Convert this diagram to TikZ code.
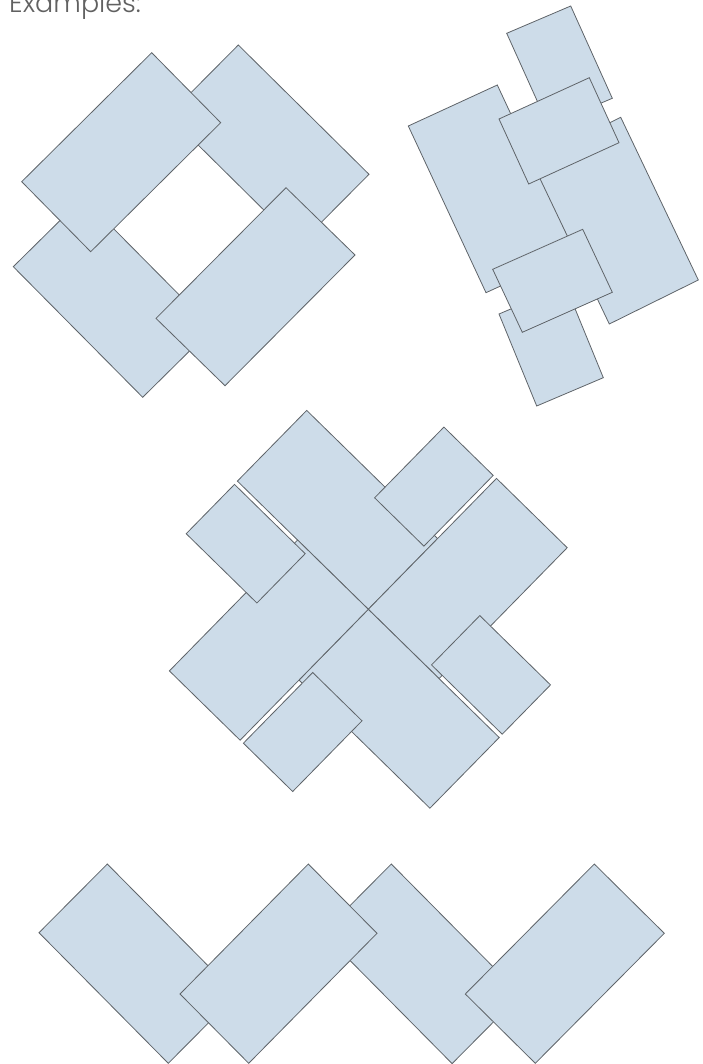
\documentclass[tikz,border=0pt]{standalone}
\usepackage{fontspec}
\newfontfamily\titlefont{Poppins Light}
\usepackage{tikz}
\definecolor{tilefill}{RGB}{205,220,233}
\definecolor{tileedge}{RGB}{95,100,105}

\begin{document}
\begin{tikzpicture}[x=1pt,y=-1pt,tile/.style={fill=tilefill,draw=tileedge,line width=0.8pt}]
  \clip (0,0) rectangle (702,1064);
  \useasboundingbox (0,0) rectangle (702,1064);
  \node[anchor=base west,inner sep=0pt,text=black!62,font=\titlefont\fontsize{27}{27}\selectfont] (title) at (9,13) {Examples:};
  % woven square
  \foreach \x/\y/\ux/\uy/\vx/\vy in {238.3/45/130.7/129.3/-70/70.5, 83/197.8/-69.7/68.9/129.4/130.6,
      151.7/52.7/69/70/-130/129, 286/187.7/69/67.3/-130/130.7}{
    \draw[tile] (\x,\y) -- ++(\ux,\uy) -- ++(\vx,\vy) -- ++({-(\ux)},{-(\uy)}) -- cycle;
  }
  % tilted stack
  \foreach \x/\y/\ux/\uy/\vx/\vy in {506.7/33.3/64/-27.3/41.6/92.3, 408.3/126/89/-41/77.7/166.7,
      531.7/161.3/89/-44/77.6/162.7, 499/119/90.3/-41.3/29.7/65,
      499/314/66.6/-28.3/37.7/92, 492.7/269.3/90/-40/29.6/63}{
    \draw[tile] (\x,\y) -- ++(\ux,\uy) -- ++(\vx,\vy) -- ++({-(\ux)},{-(\uy)}) -- cycle;
  }
  % pinwheel cross
  \foreach \x/\y/\ux/\uy/\vx/\vy in {368.3/609.3/-130.9/-128.2/69.3/-70.7, 368.3/609.3/128.2/-130.9/70.7/69.3,
      368.3/609.3/130.9/128.2/-69.3/70.7, 368.3/609.3/-128.2/130.9/-70.7/-69.3,
      305.2/553.7/-70.7/-69.3/-48.3/49.3, 423.9/546.1/69.3/-70.7/-49.3/-48.3,
      431.5/664.9/70.7/69.3/48.3/-49.3, 312.7/672.5/-69.3/70.7/49.3/48.3}{
    \draw[tile] (\x,\y) -- ++(\ux,\uy) -- ++(\vx,\vy) -- ++({-(\ux)},{-(\uy)}) -- cycle;
  }
  % zigzag row
  \foreach \x/\y/\ux/\uy/\vx/\vy in {107.3/864/-68.3/68.7/129.3/130.6, 391.3/864/-68.5/69/129.3/130.6,
      180/994/128.3/-130/68.7/69.3, 465.3/994/129/-130/70/69.3}{
    \draw[tile] (\x,\y) -- ++(\ux,\uy) -- ++(\vx,\vy) -- ++({-(\ux)},{-(\uy)}) -- cycle;
  }
\end{tikzpicture}
\end{document}
